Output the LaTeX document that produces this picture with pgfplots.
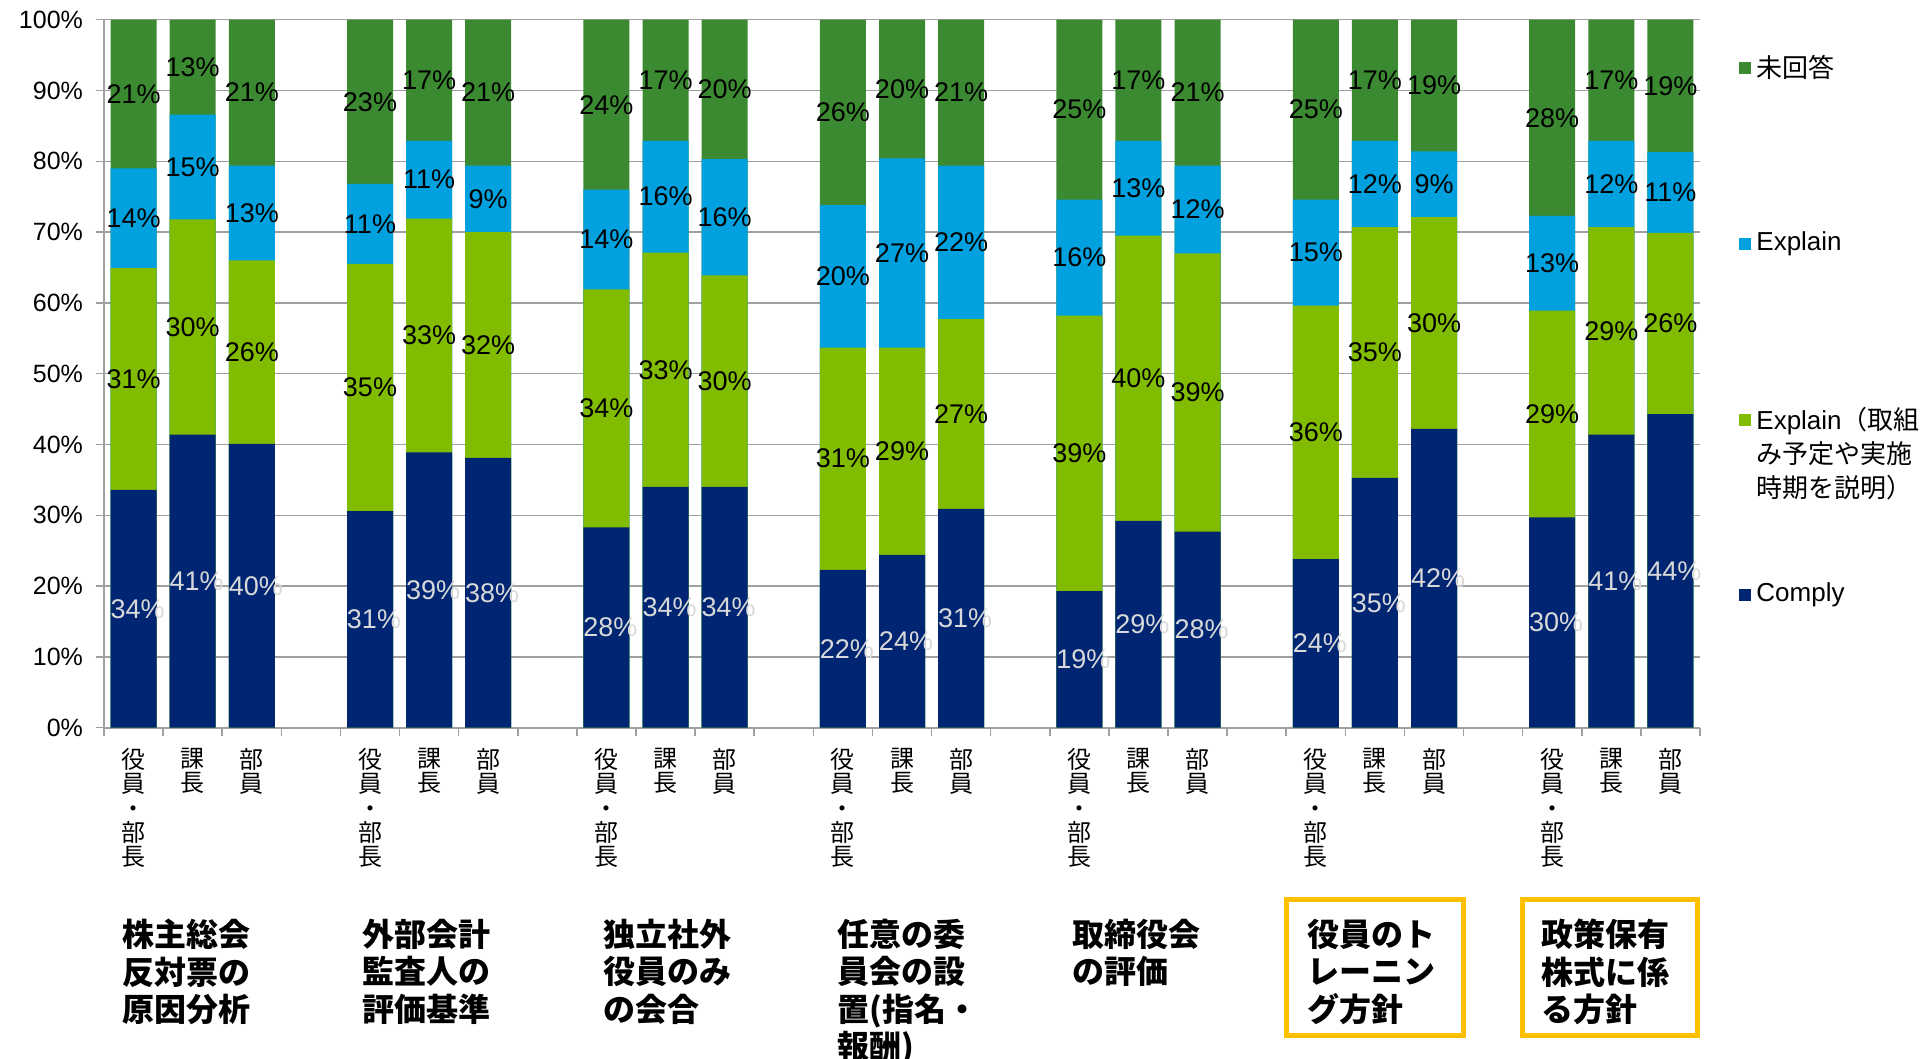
\documentclass[border=0pt]{standalone}
\usepackage{fontspec}
\usepackage{pgfplots}
\usepackage{pgfplotstable}
\pgfplotsset{compat=1.18}
\setmainfont{Liberation Sans}
\newfontfamily\cjk{Noto Sans CJK JP}
\definecolor{cC}{RGB}{0,38,115}
\definecolor{cP}{RGB}{130,188,0}
\definecolor{cE}{RGB}{0,161,222}
\definecolor{cN}{RGB}{59,138,49}
\definecolor{cLab}{RGB}{217,217,217}
\definecolor{cGrid}{RGB}{160,160,160}
\definecolor{cBox}{RGB}{255,192,0}

\pgfplotstableread{
x c p e n
0 33.6 31.3 14.1 21.0
1 41.4 30.4 14.8 13.4
2 40.1 25.9 13.4 20.6
4 30.6 34.9 11.3 23.2
5 38.9 33.0 11.0 17.1
6 38.1 31.9 9.4 20.6
8 28.3 33.6 14.1 24.0
9 34.0 33.1 15.8 17.1
10 34.0 29.9 16.4 19.7
12 22.3 31.4 20.1 26.2
13 24.4 29.3 26.7 19.6
14 30.9 26.8 21.7 20.6
16 19.3 38.9 16.4 25.4
17 29.2 40.3 13.4 17.1
18 27.7 39.3 12.4 20.6
20 23.8 35.8 15.0 25.4
21 35.3 35.4 12.2 17.1
22 42.2 29.9 9.3 18.6
24 29.7 29.2 13.4 27.7
25 41.4 29.3 12.2 17.1
26 44.3 25.6 11.4 18.7
}\data
\pgfplotstablecreatecol[create col/expr={\thisrow{c}+\thisrow{p}}]{t2}\data
\pgfplotstablecreatecol[create col/expr={\thisrow{t2}+\thisrow{e}}]{t3}\data
\pgfplotstablecreatecol[create col/expr={\thisrow{t3}+\thisrow{n}}]{t4}\data
\pgfplotstablecreatecol[create col/expr={\thisrow{c}/2}]{mc}\data
\pgfplotstablecreatecol[create col/expr={\thisrow{c}+\thisrow{p}/2}]{mp}\data
\pgfplotstablecreatecol[create col/expr={\thisrow{t2}+\thisrow{e}/2}]{me}\data
\pgfplotstablecreatecol[create col/expr={\thisrow{t3}+\thisrow{n}/2}]{mn}\data

\pgfplotsset{
  barsty/.style={ybar, bar width=23pt, bar shift=0pt, draw=none, fill=#1},
  labsty/.style={only marks, mark=*, mark size=0pt,
    mark options={line width=0pt, draw opacity=0, fill opacity=0},
    point meta=explicit,
    nodes near coords={\pgfmathprintnumber[fixed,precision=0]{\pgfplotspointmeta}\%},
    nodes near coords align={center},
    every node near coord/.append style={font=\fontsize{13.5}{16}\selectfont, text=#1, inner sep=0pt, text opacity=1}},
}

\begin{document}
\begin{tikzpicture}
\begin{axis}[
  scale only axis, width=798pt, height=354pt,
  xmin=-0.5, xmax=26.5, ymin=0, ymax=100,
  clip=false,
  axis x line*=bottom, axis y line*=left,
  axis line style={cGrid, line width=0.8pt},
  ymajorgrids, grid style={cGrid, line width=0.75pt},
  ytick={0,10,...,100},
  yticklabel={\pgfmathprintnumber{\tick}\%},
  /pgf/number format/assume math mode=true,
  tick align=outside,
  major tick length=4pt,
  tick style={cGrid, line width=0.75pt},
  yticklabel style={font=\fontsize{12.5}{15}\selectfont, xshift=-3pt},
  xtick={-0.5,0.5,...,26.5},
  xticklabels={},
  extra x ticks={0,1,2,4,5,6,8,9,10,12,13,14,16,17,18,20,21,22,24,25,26},
  extra x tick labels={{役\\員\\・\\部\\長},{課\\長},{部\\員},{役\\員\\・\\部\\長},{課\\長},{部\\員},{役\\員\\・\\部\\長},{課\\長},{部\\員},{役\\員\\・\\部\\長},{課\\長},{部\\員},{役\\員\\・\\部\\長},{課\\長},{部\\員},{役\\員\\・\\部\\長},{課\\長},{部\\員},{役\\員\\・\\部\\長},{課\\長},{部\\員}},
  extra x tick style={major tick length=0pt, grid=none,
    xticklabel style={font=\cjk\fontsize{12}{12.2}\selectfont, align=center, anchor=north, inner sep=0pt, yshift=-10pt}},
]
\addplot[barsty=cN] table[x=x,y=t4]{\data};
\addplot[barsty=cE] table[x=x,y=t3]{\data};
\addplot[barsty=cP] table[x=x,y=t2]{\data};
\addplot[barsty=cC] table[x=x,y=c]{\data};

\addplot[labsty=cLab, every node near coord/.append style={xshift=2pt}] table[x=x,y=mc,meta=c]{\data};
\addplot[labsty=black] table[x=x,y=mp,meta=p]{\data};
\addplot[labsty=black] table[x=x,y=me,meta=e]{\data};
\addplot[labsty=black] table[x=x,y=mn,meta=n]{\data};

\coordinate (BL) at (rel axis cs:0,0);
\coordinate (TR) at (rel axis cs:1,1);

% group labels
\tikzset{glab/.style={anchor=north west, inner sep=0pt, align=left, font=\cjk\bfseries\fontsize{16}{18.7}\selectfont}}
\node[glab] at ([yshift=-95.5pt]axis cs:-0.19,0) {株主総会\\反対票の\\原因分析};
\node[glab] at ([yshift=-95.5pt]axis cs:3.86,0) {外部会計\\監査人の\\評価基準};
\node[glab] at ([yshift=-95.5pt]axis cs:7.94,0) {独立社外\\役員のみ\\の会合};
\node[glab] at ([yshift=-95.5pt]axis cs:11.90,0) {任意の委\\員会の設\\置(指名・\\報酬)};
\node[glab] at ([yshift=-95.5pt]axis cs:15.87,0) {取締役会\\の評価};
\node[glab] at ([yshift=-95.5pt]axis cs:19.85,0) {役員のト\\レーニン\\グ方針};
\node[glab] at ([yshift=-95.5pt]axis cs:23.81,0) {政策保有\\株式に係\\る方針};
\draw[cBox, line width=2.5pt] ([yshift=-86pt]axis cs:19.5,0) rectangle ([yshift=-154pt]axis cs:22.5,0);
\draw[cBox, line width=2.5pt] ([yshift=-86pt]axis cs:23.5,0) rectangle ([yshift=-154pt]axis cs:26.45,0);

% legend
\tikzset{ltxt/.style={anchor=west, inner sep=0pt, font=\fontsize{13}{17}\selectfont}}
\fill[cN] ([xshift=19.5pt,yshift=-27pt]rel axis cs:1,1) rectangle ++(6pt,6pt);
\node[ltxt] at ([xshift=28pt,yshift=-24pt]rel axis cs:1,1) {\cjk 未回答};
\fill[cE] ([xshift=19.5pt,yshift=-115pt]rel axis cs:1,1) rectangle ++(6pt,6pt);
\node[ltxt] at ([xshift=28pt,yshift=-112pt]rel axis cs:1,1) {Explain};
\fill[cP] ([xshift=19.5pt,yshift=-203pt]rel axis cs:1,1) rectangle ++(6pt,6pt);
\node[ltxt, anchor=north west, align=left] at ([xshift=28pt,yshift=-193.5pt]rel axis cs:1,1) {Explain{\cjk （取組}\\{\cjk み予定や実施}\\{\cjk 時期を説明）}};
\fill[cC] ([xshift=19.5pt,yshift=-290.5pt]rel axis cs:1,1) rectangle ++(6pt,6pt);
\node[ltxt] at ([xshift=28pt,yshift=-287.5pt]rel axis cs:1,1) {Comply};
\end{axis}
\pgfresetboundingbox
\path ([xshift=-52pt,yshift=-165.25pt]BL) rectangle ([xshift=115pt,yshift=9.85pt]TR);
\end{tikzpicture}
\end{document}
